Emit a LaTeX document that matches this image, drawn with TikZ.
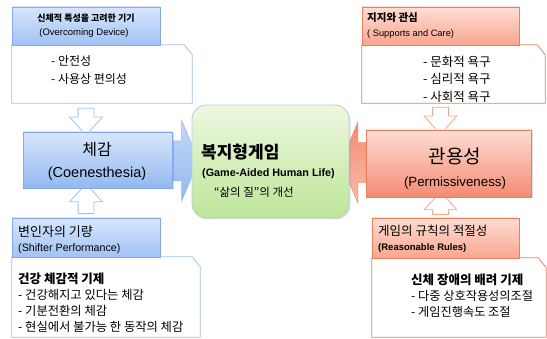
\documentclass[tikz,border=0pt]{standalone}
\usepackage{fontspec}
\setmainfont{Liberation Sans}
\newfontfamily\kr{Noto Sans CJK KR}
\usetikzlibrary{shapes.arrows,shadows,backgrounds,calc}

\definecolor{bluetop}{HTML}{D8E6FC}
\definecolor{bluebot}{HTML}{A0C2F4}
\definecolor{blueedge}{HTML}{82AAEA}
\definecolor{bluebox}{HTML}{93B8F0}
\definecolor{bluethin}{HTML}{A3C1F0}
\definecolor{redtop}{HTML}{FEDDD3}
\definecolor{redbot}{HTML}{F9A68F}
\definecolor{rededge}{HTML}{E8805D}
\definecolor{redbox}{HTML}{F38B72}
\definecolor{redthin}{HTML}{F2A98F}
\definecolor{greentop}{HTML}{EEF8E1}
\definecolor{greenbot}{HTML}{BEE598}
\definecolor{greenedge}{HTML}{B7CBE6}

% outline of a list box with its cut corner
\newcommand\foldframe[2]{\draw[#1, fill=white, line width=0.8pt] (#2.north west) -- ([xshift=-8pt]#2.north east) -- ([yshift=-10pt]#2.north east) -- (#2.south east) -- (#2.south west) -- cycle;}

\begin{document}
\begin{tikzpicture}[x=1pt, y=-1pt,
  bluehead/.style={draw=blueedge, top color=bluetop, bottom color=bluebot, line width=0.8pt, inner sep=5pt},
  redhead/.style={draw=rededge, top color=redtop, bottom color=redbot, line width=0.8pt, inner sep=5pt},
  listbox/.style={inner sep=0pt},
  mainbox/.style={line width=0.8pt, drop shadow={opacity=0.25, shadow xshift=1.5pt, shadow yshift=-1.5pt}},
  hollowarrow/.style={single arrow, draw=#1, fill=white, line width=0.8pt, inner xsep=0pt, inner ysep=7.5pt, single arrow head extend=8.5pt, single arrow tip angle=84},
  fatarrow/.style={single arrow, line width=0.6pt, inner xsep=0pt, inner ysep=19.5pt, single arrow head extend=20.5pt, single arrow tip angle=134, minimum height=25pt},
  item/.style={align=left, inner sep=0pt, anchor=west}]
\useasboundingbox (0,0) rectangle (547,339);

% list boxes
\node[listbox, minimum width=180pt, minimum height=58pt] (tlbox) at (102,74) {};
\node[listbox, minimum width=183pt, minimum height=58pt] (trbox) at (453.5,74) {};
\node[listbox, minimum width=188pt, minimum height=80pt] (blbox) at (106,297) {};
\node[listbox, minimum width=174pt, minimum height=79pt] (brbox) at (459,297.5) {};

% headers
\node[bluehead, minimum width=148pt, minimum height=38pt] (tlhead) at (86,26) {};
\node[redhead, minimum width=157pt, minimum height=38pt] (trhead) at (440.5,26) {};
\node[bluehead, minimum width=148pt, minimum height=39pt] (blhead) at (86,237.5) {};
\node[redhead, minimum width=147pt, minimum height=40pt] (brhead) at (445.5,238) {};

% main boxes
\node[mainbox, draw=blueedge, top color=bluetop, bottom color=bluebox, minimum width=149pt, minimum height=56pt] (coen) at (97.5,160) {};
\node[mainbox, draw=greenedge, top color=greentop, bottom color=greenbot, rounded corners=14pt, minimum width=157pt, minimum height=113pt] (game) at (270.5,161.5) {};
\node[mainbox, draw=rededge, top color=redtop, bottom color=redbox, minimum width=165pt, minimum height=67pt] (perm) at (448.5,163.5) {};

\begin{scope}[on background layer]
  \foldframe{draw=bluethin}{tlbox}
  \foldframe{draw=rededge}{trbox}
  \foldframe{draw=bluethin}{blbox}
  \foldframe{draw=rededge}{brbox}
  \node[hollowarrow=bluethin, rotate=-90, minimum height=27pt] (downleft) at ($(tlhead.center |- tlbox.south)!0.5!(tlhead.center |- coen.north)$) {};
  \node[hollowarrow=bluethin, rotate=90, minimum height=30pt] (upleft) at ($(tlhead.center |- coen.south)!0.5!(tlhead.center |- blhead.north)$) {};
  \node[hollowarrow=redthin, rotate=-90, minimum height=27pt] (downright) at ($(trhead.center |- trbox.south)!0.5!(trhead.center |- perm.north)$) {};
  \node[hollowarrow=redthin, rotate=90, minimum height=23pt] (upright) at ($(trhead.center |- perm.south)!0.5!(trhead.center |- brhead.north)$) {};
  \node[fatarrow, draw=bluebox, top color=bluetop!70!bluebox, bottom color=bluebox] (toright) at ($(coen.east)!0.5!(game.west)$) {};
  \node[fatarrow, draw=redbox, top color=redbox, bottom color=redtop!60!redbox, rotate=180] (toleft) at ($(game.east)!0.5!(perm.west)$) {};
\end{scope}

% header texts
\node[font=\kr\bfseries\fontsize{9}{9}\selectfont] (tlheadkr) at (86,18) {신체적 특성을 고려한 기기};
\node[font=\fontsize{9.5}{10}\selectfont] (tlheaden) at (84,33) {(Overcoming Device)};
\node[item, font=\kr\bfseries\fontsize{10.5}{11}\selectfont] (trheadkr) at (367,18) {지지와 관심};
\node[item, font=\fontsize{9.3}{10}\selectfont] (trheaden) at (367,34) {( Supports and Care)};
\node[item, font=\kr\fontsize{13}{13}\selectfont] (blheadkr) at (18,232) {변인자의 기량};
\node[item, font=\fontsize{10.7}{11}\selectfont] (blheaden) at (18,249) {(Shifter Performance)};
\node[item, font=\kr\fontsize{12.5}{13}\selectfont] (brheadkr) at (378,231) {게임의 규칙의 적절성};
\node[item, font=\bfseries\fontsize{9.5}{10}\selectfont] (brheaden) at (378,248) {(Reasonable Rules)};

% texts of the main boxes
\node[font=\kr\fontsize{16}{16}\selectfont] (coenkr) at (97,150) {체감};
\node[font=\fontsize{14.5}{15}\selectfont] (coenen) at (97,174) {(Coenesthesia)};
\node[item, font=\kr\bfseries\fontsize{17}{17}\selectfont] (gamekr) at (201,152) {복지형게임};
\node[item, font=\bfseries\fontsize{10.8}{12}\selectfont] (gameen) at (202,174) {(Game-Aided Human Life)};
\node[item, font=\kr\fontsize{11.5}{12}\selectfont] (gamesub) at (214,192) {“삶의 질”의 개선};
\node[font=\kr\fontsize{19}{19}\selectfont] (permkr) at (455,156) {관용성};
\node[font=\fontsize{13.3}{14}\selectfont] (permen) at (455,183) {(Permissiveness)};

% list texts
\node[item, font=\kr\fontsize{12}{18}\selectfont] (tllist) at (51,70) {- 안전성\\- 사용상 편의성};
\node[item, font=\kr\fontsize{12.5}{17.5}\selectfont] (trlist) at (423,79) {- 문화적 욕구\\ - 심리적 욕구\\ - 사회적 욕구};
\node[item, font=\kr\fontsize{12.3}{16}\selectfont] (bllist) at (18,303)
  {{\bfseries\fontsize{12.5}{16}\selectfont 건강 체감적 기제}\\- 건강해지고 있다는 체감\\- 기분전환의 체감\\- 현실에서 불가능 한 동작의 체감};
\node[item, font=\kr\fontsize{12.2}{16}\selectfont] (brlist) at (411,296)
  {{\bfseries\fontsize{12.5}{16}\selectfont 신체 장애의 배려 기제}\\- 다중 상호작용성의조절\\- 게임진행속도 조절};
\end{tikzpicture}
\end{document}
